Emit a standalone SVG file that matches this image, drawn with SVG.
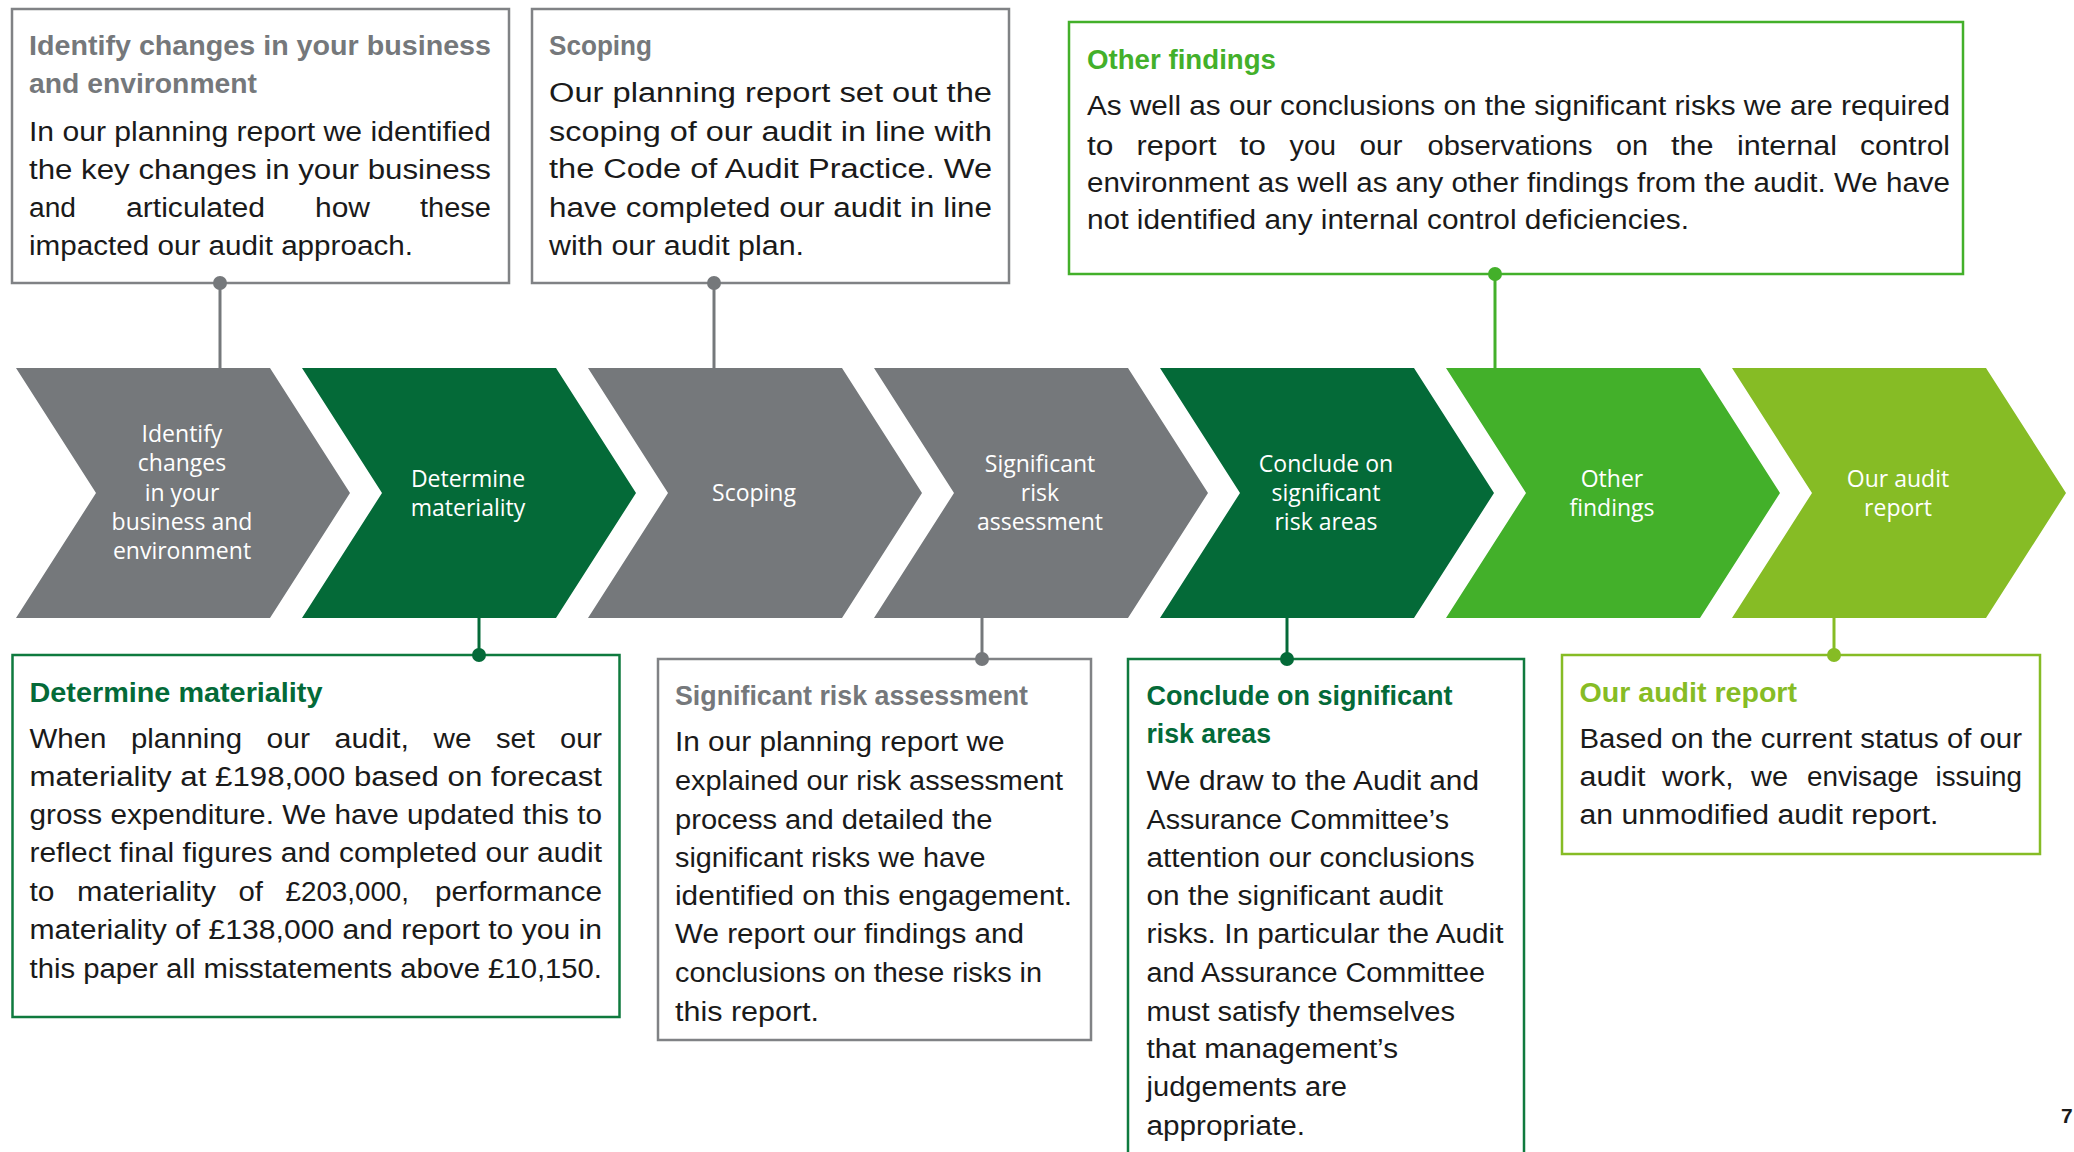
<svg xmlns="http://www.w3.org/2000/svg" width="2074" height="1152" viewBox="0 0 2074 1152">
<style>
.t{font-family:"Liberation Sans",Arial,sans-serif;font-size:27px;fill:#1a1a1a}
.b{font-weight:bold}
.gy{fill:#75787B}
.dg{fill:#046A38}
.mg{fill:#43B02A}
.lg{fill:#86BC25}
.box{fill:#ffffff;stroke-width:2.5}
.ct{font-family:"Open Sans","DejaVu Sans",sans-serif;font-size:23px;fill:#ffffff;text-anchor:middle}
.cn{stroke-width:3;fill:none}
</style>
<rect width="2074" height="1152" fill="#ffffff"/>

<!-- chevrons -->
<g id="chev-identify">
<polygon points="16,368 270,368 350,493 270,618 16,618 96,493" fill="#75787B"/>
<text class="ct"><tspan x="182" y="442">Identify</tspan><tspan x="182" y="471">changes</tspan><tspan x="182" y="501">in your</tspan><tspan x="182" y="530">business and</tspan><tspan x="182" y="559">environment</tspan></text>
</g>
<g id="chev-materiality">
<polygon points="302,368 556,368 636,493 556,618 302,618 382,493" fill="#046A38"/>
<text class="ct"><tspan x="468" y="487">Determine</tspan><tspan x="468" y="516">materiality</tspan></text>
</g>
<g id="chev-scoping">
<polygon points="588,368 842,368 922,493 842,618 588,618 668,493" fill="#75787B"/>
<text class="ct" x="754" y="501">Scoping</text>
</g>
<g id="chev-risk">
<polygon points="874,368 1128,368 1208,493 1128,618 874,618 954,493" fill="#75787B"/>
<text class="ct"><tspan x="1040" y="472">Significant</tspan><tspan x="1040" y="501">risk</tspan><tspan x="1040" y="530">assessment</tspan></text>
</g>
<g id="chev-conclude">
<polygon points="1160,368 1414,368 1494,493 1414,618 1160,618 1240,493" fill="#046A38"/>
<text class="ct"><tspan x="1326" y="472">Conclude on</tspan><tspan x="1326" y="501">significant</tspan><tspan x="1326" y="530">risk areas</tspan></text>
</g>
<g id="chev-other">
<polygon points="1446,368 1700,368 1780,493 1700,618 1446,618 1526,493" fill="#43B02A"/>
<text class="ct"><tspan x="1612" y="487">Other</tspan><tspan x="1612" y="516">findings</tspan></text>
</g>
<g id="chev-report">
<polygon points="1732,368 1986,368 2066,493 1986,618 1732,618 1812,493" fill="#86BC25"/>
<text class="ct"><tspan x="1898" y="487">Our audit</tspan><tspan x="1898" y="516">report</tspan></text>
</g>

<!-- top boxes -->
<g id="box-identify">
<rect class="box" x="12" y="9" width="497" height="274" stroke="#808285"/>
<text class="t b gy" x="29" y="55" textLength="462" lengthAdjust="spacingAndGlyphs">Identify changes in your business</text>
<text class="t b gy" x="29" y="93" textLength="228" lengthAdjust="spacingAndGlyphs">and environment</text>
<text class="t" x="29" y="141" textLength="462" lengthAdjust="spacingAndGlyphs">In our planning report we identified</text>
<text class="t" x="29" y="179" textLength="462" lengthAdjust="spacingAndGlyphs">the key changes in your business</text>
<text class="t" y="217"><tspan x="29" textLength="47" lengthAdjust="spacingAndGlyphs">and</tspan> <tspan x="126" textLength="139" lengthAdjust="spacingAndGlyphs">articulated</tspan> <tspan x="315" textLength="55" lengthAdjust="spacingAndGlyphs">how</tspan> <tspan x="420" textLength="71" lengthAdjust="spacingAndGlyphs">these</tspan></text>
<text class="t" x="29" y="255" textLength="384" lengthAdjust="spacingAndGlyphs">impacted our audit approach.</text>
</g>

<g id="box-scoping">
<rect class="box" x="532" y="9" width="477" height="274" stroke="#808285"/>
<text class="t b gy" x="549" y="55" textLength="103" lengthAdjust="spacingAndGlyphs">Scoping</text>
<text class="t" x="549" y="102" textLength="443" lengthAdjust="spacingAndGlyphs">Our planning report set out the</text>
<text class="t" x="549" y="141" textLength="443" lengthAdjust="spacingAndGlyphs">scoping of our audit in line with</text>
<text class="t" x="549" y="178" textLength="443" lengthAdjust="spacingAndGlyphs">the Code of Audit Practice. We</text>
<text class="t" x="549" y="217" textLength="443" lengthAdjust="spacingAndGlyphs">have completed our audit in line</text>
<text class="t" x="549" y="255" textLength="255" lengthAdjust="spacingAndGlyphs">with our audit plan.</text>
</g>

<g id="box-other">
<rect class="box" x="1069" y="22" width="894" height="252" stroke="#43B02A"/>
<text class="t b mg" x="1087" y="69" textLength="189" lengthAdjust="spacingAndGlyphs">Other findings</text>
<text class="t" x="1087" y="115" textLength="863" lengthAdjust="spacingAndGlyphs">As well as our conclusions on the significant risks we are required</text>
<text class="t" y="155"><tspan x="1087" textLength="26.5" lengthAdjust="spacingAndGlyphs">to</tspan> <tspan x="1136.5" textLength="80" lengthAdjust="spacingAndGlyphs">report</tspan> <tspan x="1239.5" textLength="26.5" lengthAdjust="spacingAndGlyphs">to</tspan> <tspan x="1289.5" textLength="46.5" lengthAdjust="spacingAndGlyphs">you</tspan> <tspan x="1359.5" textLength="43" lengthAdjust="spacingAndGlyphs">our</tspan> <tspan x="1427.5" textLength="165" lengthAdjust="spacingAndGlyphs">observations</tspan> <tspan x="1616" textLength="32" lengthAdjust="spacingAndGlyphs">on</tspan> <tspan x="1671" textLength="42.5" lengthAdjust="spacingAndGlyphs">the</tspan> <tspan x="1737" textLength="100" lengthAdjust="spacingAndGlyphs">internal</tspan> <tspan x="1860" textLength="90" lengthAdjust="spacingAndGlyphs">control</tspan></text>
<text class="t" x="1087" y="192" textLength="863" lengthAdjust="spacingAndGlyphs">environment as well as any other findings from the audit. We have</text>
<text class="t" x="1087" y="229" textLength="602" lengthAdjust="spacingAndGlyphs">not identified any internal control deficiencies.</text>
</g>

<!-- bottom boxes -->
<g id="box-materiality">
<rect class="box" x="12.5" y="655" width="607" height="362" stroke="#0F7A3E"/>
<text class="t b dg" x="29.5" y="702" textLength="293" lengthAdjust="spacingAndGlyphs">Determine materiality</text>
<text class="t" y="748"><tspan x="29.5" textLength="77" lengthAdjust="spacingAndGlyphs">When</tspan> <tspan x="131" textLength="111" lengthAdjust="spacingAndGlyphs">planning</tspan> <tspan x="266.5" textLength="43.5" lengthAdjust="spacingAndGlyphs">our</tspan> <tspan x="334.5" textLength="74.5" lengthAdjust="spacingAndGlyphs">audit,</tspan> <tspan x="433.5" textLength="38" lengthAdjust="spacingAndGlyphs">we</tspan> <tspan x="496" textLength="39" lengthAdjust="spacingAndGlyphs">set</tspan> <tspan x="560" textLength="42" lengthAdjust="spacingAndGlyphs">our</tspan></text>
<text class="t" x="29.5" y="786" textLength="572.5" lengthAdjust="spacingAndGlyphs">materiality at £198,000 based on forecast</text>
<text class="t" x="29.5" y="824" textLength="572.5" lengthAdjust="spacingAndGlyphs">gross expenditure. We have updated this to</text>
<text class="t" x="29.5" y="862" textLength="572.5" lengthAdjust="spacingAndGlyphs">reflect final figures and completed our audit</text>
<text class="t" y="901"><tspan x="29.5" textLength="25" lengthAdjust="spacingAndGlyphs">to</tspan> <tspan x="77" textLength="139" lengthAdjust="spacingAndGlyphs">materiality</tspan> <tspan x="238.5" textLength="24.5" lengthAdjust="spacingAndGlyphs">of</tspan> <tspan x="285.5" textLength="123.5" lengthAdjust="spacingAndGlyphs">£203,000,</tspan> <tspan x="435" textLength="167" lengthAdjust="spacingAndGlyphs">performance</tspan></text>
<text class="t" x="29.5" y="939" textLength="572.5" lengthAdjust="spacingAndGlyphs">materiality of £138,000 and report to you in</text>
<text class="t" x="29.5" y="978" textLength="572.5" lengthAdjust="spacingAndGlyphs">this paper all misstatements above £10,150.</text>
</g>

<g id="box-risk">
<rect class="box" x="658" y="659" width="433" height="381" stroke="#808285"/>
<text class="t b gy" x="675" y="705" textLength="353" lengthAdjust="spacingAndGlyphs">Significant risk assessment</text>
<text class="t" x="675" y="751" textLength="329.5" lengthAdjust="spacingAndGlyphs">In our planning report we</text>
<text class="t" x="675" y="790" textLength="388" lengthAdjust="spacingAndGlyphs">explained our risk assessment</text>
<text class="t" x="675" y="829" textLength="317.5" lengthAdjust="spacingAndGlyphs">process and detailed the</text>
<text class="t" x="675" y="867" textLength="310.5" lengthAdjust="spacingAndGlyphs">significant risks we have</text>
<text class="t" x="675" y="905" textLength="397" lengthAdjust="spacingAndGlyphs">identified on this engagement.</text>
<text class="t" x="675" y="943" textLength="349" lengthAdjust="spacingAndGlyphs">We report our findings and</text>
<text class="t" x="675" y="982" textLength="367" lengthAdjust="spacingAndGlyphs">conclusions on these risks in</text>
<text class="t" x="675" y="1021" textLength="144" lengthAdjust="spacingAndGlyphs">this report.</text>
</g>

<g id="box-conclude">
<rect class="box" x="1128" y="659" width="396" height="520" stroke="#0F7A3E"/>
<text class="t b dg" x="1146.5" y="705" textLength="306" lengthAdjust="spacingAndGlyphs">Conclude on significant</text>
<text class="t b dg" x="1146.5" y="743" textLength="124.5" lengthAdjust="spacingAndGlyphs">risk areas</text>
<text class="t" x="1146.5" y="790" textLength="332.5" lengthAdjust="spacingAndGlyphs">We draw to the Audit and</text>
<text class="t" x="1146.5" y="829" textLength="302.5" lengthAdjust="spacingAndGlyphs">Assurance Committee’s</text>
<text class="t" x="1146.5" y="867" textLength="328" lengthAdjust="spacingAndGlyphs">attention our conclusions</text>
<text class="t" x="1146.5" y="905" textLength="296.5" lengthAdjust="spacingAndGlyphs">on the significant audit</text>
<text class="t" x="1146.5" y="943" textLength="357" lengthAdjust="spacingAndGlyphs">risks. In particular the Audit</text>
<text class="t" x="1146.5" y="982" textLength="338.5" lengthAdjust="spacingAndGlyphs">and Assurance Committee</text>
<text class="t" x="1146.5" y="1021" textLength="308.5" lengthAdjust="spacingAndGlyphs">must satisfy themselves</text>
<text class="t" x="1146.5" y="1058" textLength="251.5" lengthAdjust="spacingAndGlyphs">that management’s</text>
<text class="t" x="1146.5" y="1096" textLength="200.5" lengthAdjust="spacingAndGlyphs">judgements are</text>
<text class="t" x="1146.5" y="1135" textLength="158.5" lengthAdjust="spacingAndGlyphs">appropriate.</text>
</g>

<g id="box-report">
<rect class="box" x="1562" y="655" width="478" height="199" stroke="#86BC25"/>
<text class="t b lg" x="1579.5" y="702" textLength="217.5" lengthAdjust="spacingAndGlyphs">Our audit report</text>
<text class="t" x="1579.5" y="748" textLength="442.5" lengthAdjust="spacingAndGlyphs">Based on the current status of our</text>
<text class="t" y="786"><tspan x="1579.5" textLength="66" lengthAdjust="spacingAndGlyphs">audit</tspan> <tspan x="1662" textLength="71.5" lengthAdjust="spacingAndGlyphs">work,</tspan> <tspan x="1751" textLength="37" lengthAdjust="spacingAndGlyphs">we</tspan> <tspan x="1807" textLength="111.5" lengthAdjust="spacingAndGlyphs">envisage</tspan> <tspan x="1935.5" textLength="86.5" lengthAdjust="spacingAndGlyphs">issuing</tspan></text>
<text class="t" x="1579.5" y="824" textLength="359" lengthAdjust="spacingAndGlyphs">an unmodified audit report.</text>
</g>

<!-- connectors -->
<g id="connectors">
<line class="cn" x1="220" y1="283" x2="220" y2="368" stroke="#75787B"/>
<circle cx="220" cy="283" r="7" fill="#75787B"/>
<line class="cn" x1="714" y1="283" x2="714" y2="368" stroke="#75787B"/>
<circle cx="714" cy="283" r="7" fill="#75787B"/>
<line class="cn" x1="1495" y1="274" x2="1495" y2="368" stroke="#43B02A"/>
<circle cx="1495" cy="274" r="7" fill="#43B02A"/>
<line class="cn" x1="479" y1="618" x2="479" y2="655" stroke="#046A38"/>
<circle cx="479" cy="655" r="7" fill="#046A38"/>
<line class="cn" x1="982" y1="618" x2="982" y2="659" stroke="#75787B"/>
<circle cx="982" cy="659" r="7" fill="#75787B"/>
<line class="cn" x1="1287" y1="618" x2="1287" y2="659" stroke="#046A38"/>
<circle cx="1287" cy="659" r="7" fill="#046A38"/>
<line class="cn" x1="1834" y1="618" x2="1834" y2="655" stroke="#86BC25"/>
<circle cx="1834" cy="655" r="7" fill="#86BC25"/>
</g>

<text id="page-number" x="2061" y="1123" font-family="Liberation Sans, Arial, sans-serif" font-size="21" font-weight="bold" fill="#1a1a1a">7</text>
</svg>
